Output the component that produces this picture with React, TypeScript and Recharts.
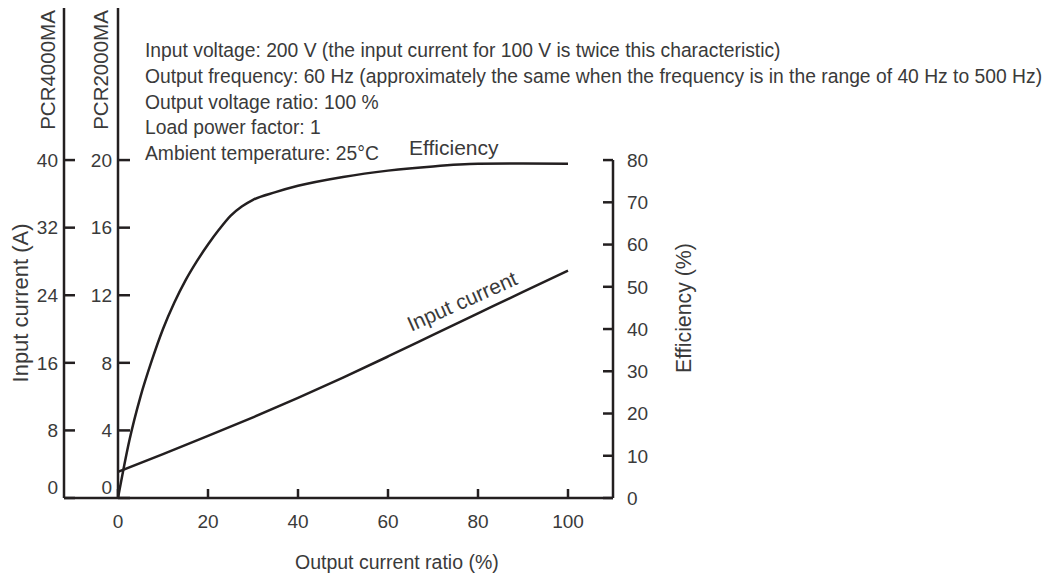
import { ComposedChart, Line, ReferenceLine, XAxis, YAxis } from "recharts";

// output current ratio (%) -> efficiency (%)
const effRatio = [0, 2.5, 5, 7.5, 10, 12.5, 15, 17.5, 20, 22.5, 25, 27.5, 30, 35, 40, 50, 60, 70, 80, 90, 100];
const effValue = [0, 13.5, 24, 32.5, 40, 46.2, 51.5, 56, 60, 63.6, 66.8, 69, 70.6, 72.4, 73.9, 76, 77.5, 78.5, 79.1, 79.2, 79.1];

// output current ratio (%) -> input current (A), PCR4000MA scale
const currentRatio = [0, 10, 20, 30, 40, 50, 60, 70, 80, 90, 100];
const currentValue = [3.1, 5.2, 7.35, 9.55, 11.85, 14.25, 16.75, 19.3, 21.85, 24.4, 26.9];

const xTicks = [0, 20, 40, 60, 80, 100];
const pcr4000Ticks = [0, 8, 16, 24, 32, 40];
const pcr2000Ticks = [0, 4, 8, 12, 16, 20];
const effTicks = [0, 10, 20, 30, 40, 50, 60, 70, 80];

const notes = [
  "Input voltage: 200 V (the input current for 100 V is twice this characteristic)",
  "Output frequency: 60 Hz (approximately the same when the frequency is in the range of 40 Hz to 500 Hz)",
  "Output voltage ratio: 100 %",
  "Load power factor: 1",
  "Ambient temperature: 25°C",
];

const effData = effRatio.map((ratio, i) => ({ ratio, eff: effValue[i] }));
const currentData = currentRatio.map((ratio, i) => ({ ratio, current: currentValue[i] }));

const FONT = "'Liberation Sans', Arial, sans-serif";
const TEXT = "#3a3a3a";
const INK = "#231f20";
const FS = 19;

const tickStyle = { fill: TEXT, fontSize: FS, fontFamily: FONT };

// left axes lift their "0" label above the x axis line
function LeftTick(props: any) {
  const { x, y, payload } = props;
  const lift = payload.value === 0 ? -11 : 0;
  return (
    <text x={x} y={y + lift} dy="0.355em" textAnchor="end" fill={TEXT} fontSize={FS} fontFamily={FONT}>
      {payload.value}
    </text>
  );
}

export default function App() {
  return (
    <div style={{ position: "absolute", left: 0, top: 0, width: 1048, height: 576, background: "#fff" }}>
      <ComposedChart width={1048} height={576} margin={{ top: 8, right: 335, bottom: 38, left: 0 }}>
        <XAxis
          type="number"
          dataKey="ratio"
          domain={[0, 110]}
          allowDataOverflow
          ticks={xTicks}
          interval={0}
          height={40}
          tickSize={-9}
          tickMargin={26}
          stroke={INK}
          strokeWidth={2.5}
          tick={tickStyle}
        />
        <YAxis
          yAxisId="pcr2000"
          orientation="left"
          width={54}
          domain={[0, 29]}
          allowDataOverflow
          ticks={pcr2000Ticks}
          interval={0}
          tickSize={-12}
          tickMargin={18}
          stroke={INK}
          strokeWidth={2.5}
          tick={<LeftTick />}
        />
        <YAxis
          yAxisId="pcr4000"
          orientation="left"
          width={64}
          domain={[0, 58]}
          allowDataOverflow
          ticks={pcr4000Ticks}
          interval={0}
          tickSize={-11}
          tickMargin={17}
          stroke={INK}
          strokeWidth={2.5}
          tick={<LeftTick />}
        />
        <YAxis
          yAxisId="eff"
          orientation="right"
          width={100}
          domain={[0, 116]}
          allowDataOverflow
          ticks={effTicks}
          interval={0}
          axisLine={false}
          tickSize={-10}
          tickMargin={24}
          stroke={INK}
          strokeWidth={2.5}
          tick={{ ...tickStyle, textAnchor: "start" }}
        />
        <ReferenceLine
          yAxisId="pcr4000"
          segment={[{ x: -12, y: 0 }, { x: 0, y: 0 }]}
          ifOverflow="visible"
          stroke={INK}
          strokeWidth={2.5}
        />
        <ReferenceLine
          yAxisId="eff"
          segment={[{ x: 110, y: 0 }, { x: 110, y: 80 }]}
          ifOverflow="visible"
          stroke={INK}
          strokeWidth={2.5}
        />
        <Line
          data={effData}
          yAxisId="eff"
          dataKey="eff"
          type="monotone"
          stroke={INK}
          strokeWidth={2.5}
          dot={false}
          isAnimationActive={false}
        />
        <Line
          data={currentData}
          yAxisId="pcr4000"
          dataKey="current"
          type="monotone"
          stroke={INK}
          strokeWidth={2.5}
          dot={false}
          isAnimationActive={false}
        />
      </ComposedChart>
      <svg
        width={1048}
        height={576}
        style={{ position: "absolute", left: 0, top: 0, pointerEvents: "none" }}
        fontFamily={FONT}
        fill={TEXT}
      >
        {notes.map((line, i) => (
          <text key={i} x={145} y={57 + i * 25.8} fontSize={19.3}>
            {line}
          </text>
        ))}
        <text x={409} y={155} fontSize={21}>
          Efficiency
        </text>
        <text x={462} y={301} fontSize={21} textAnchor="middle" dominantBaseline="central" transform="rotate(-24 462 301)">
          Input current
        </text>
        <text x={20} y={303} fontSize={22} textAnchor="middle" dominantBaseline="central" transform="rotate(-90 20 303)">
          Input current (A)
        </text>
        <text x={684} y={308} fontSize={21.3} textAnchor="middle" dominantBaseline="central" transform="rotate(-90 684 308)">
          Efficiency (%)
        </text>
        <text x={47} y={70} fontSize={20.5} textAnchor="middle" dominantBaseline="central" transform="rotate(-90 47 70)">
          PCR4000MA
        </text>
        <text x={100} y={70} fontSize={20.5} textAnchor="middle" dominantBaseline="central" transform="rotate(-90 100 70)">
          PCR2000MA
        </text>
        <text x={295} y={562} fontSize={19.5} dominantBaseline="central">
          Output current ratio (%)
        </text>
      </svg>
    </div>
  );
}
